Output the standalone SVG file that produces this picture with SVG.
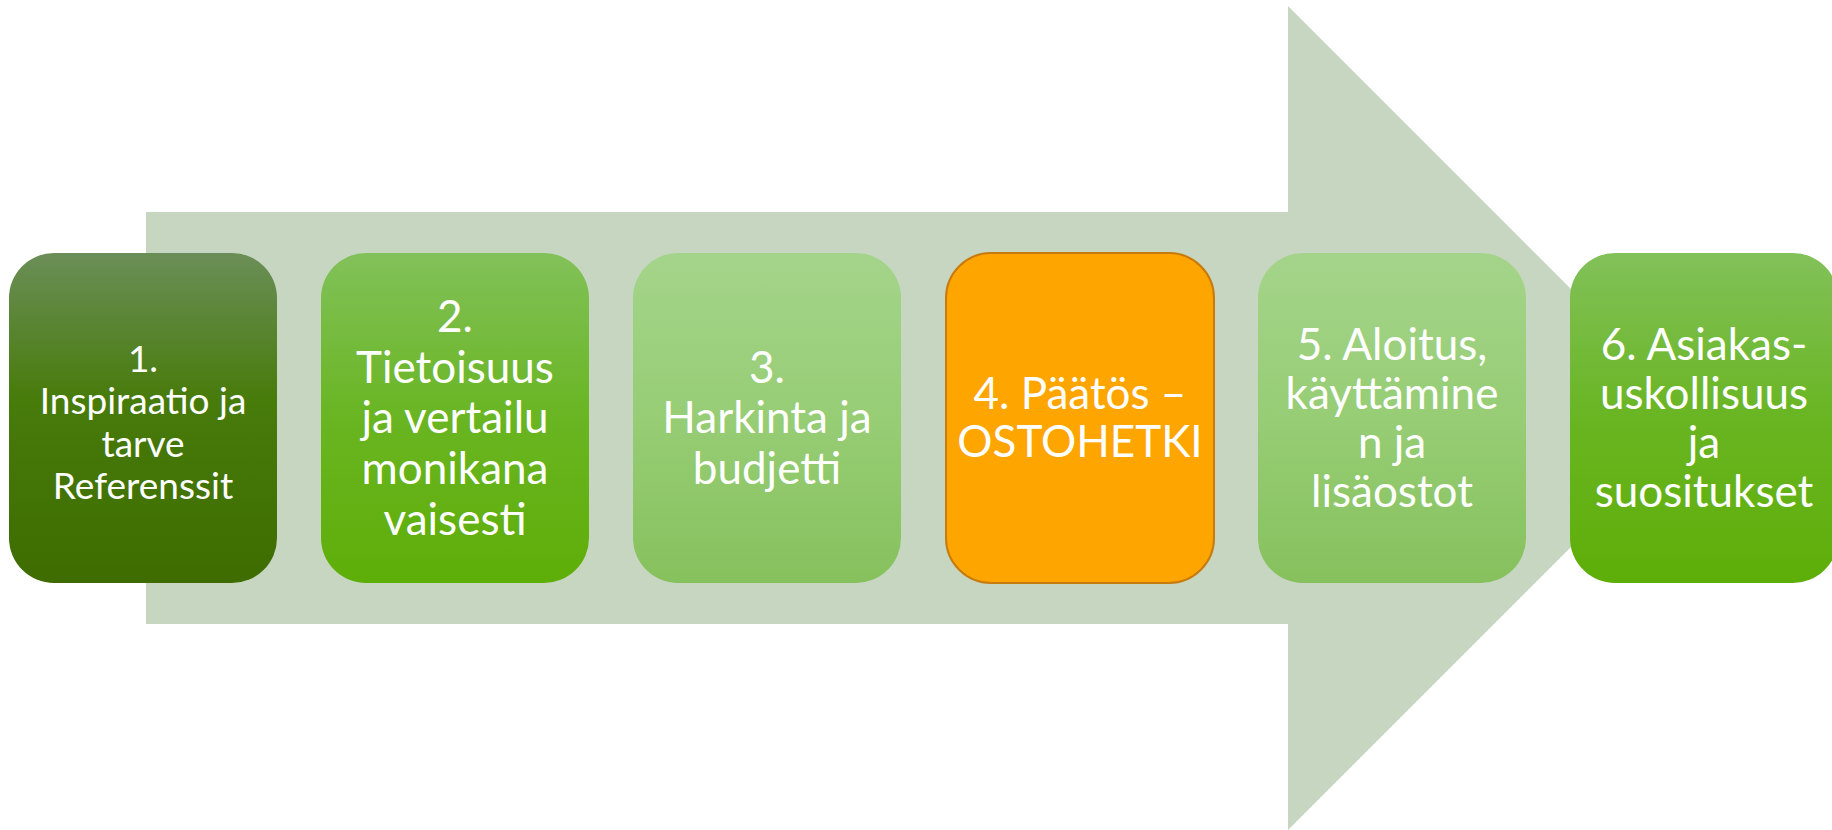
<svg xmlns="http://www.w3.org/2000/svg" width="1832" height="830" viewBox="0 0 1832 830">
<defs>
<linearGradient id="g1" x1="0" y1="0" x2="0" y2="1">
<stop offset="0" stop-color="#6B8E58"/><stop offset="0.45" stop-color="#477B0A"/><stop offset="1" stop-color="#3E6C00"/>
</linearGradient>
<linearGradient id="g2" x1="0" y1="0" x2="0" y2="1">
<stop offset="0" stop-color="#82C15A"/><stop offset="0.5" stop-color="#69B522"/><stop offset="1" stop-color="#5EAE08"/>
</linearGradient>
<linearGradient id="g3" x1="0" y1="0" x2="0" y2="1">
<stop offset="0" stop-color="#A4D48A"/><stop offset="0.5" stop-color="#97CD75"/><stop offset="1" stop-color="#86C15D"/>
</linearGradient>
<style>
.t{font-family:Lato,"Liberation Sans",sans-serif;fill:#FFFFFF;text-anchor:middle}
.s1{font-size:37px}
.s2{font-size:44px}
</style>
</defs>
<g id="arrow">
<polygon points="146,212 1288,212 1288,6 1700,418 1288,830 1288,624 146,624" fill="#C7D6C1"/>
</g>
<g id="node1">
<rect x="9" y="253" width="268" height="330" rx="45" ry="45" fill="url(#g1)"/>
<text class="t s1" x="143" y="372">1.</text>
<text class="t s1" x="143" y="414">Inspiraatio ja</text>
<text class="t s1" x="143" y="457">tarve</text>
<text class="t s1" x="143" y="499">Referenssit</text>
</g>
<g id="node2">
<rect x="321" y="253" width="268" height="330" rx="45" ry="45" fill="url(#g2)"/>
<text class="t s2" x="455" y="332">2.</text>
<text class="t s2" x="455" y="383">Tietoisuus</text>
<text class="t s2" x="455" y="433">ja vertailu</text>
<text class="t s2" x="455" y="484">monikana</text>
<text class="t s2" x="455" y="535">vaisesti</text>
</g>
<g id="node3">
<rect x="633" y="253" width="268" height="330" rx="45" ry="45" fill="url(#g3)"/>
<text class="t s2" x="767" y="383">3.</text>
<text class="t s2" x="767" y="433">Harkinta ja</text>
<text class="t s2" x="767" y="484">budjetti</text>
</g>
<g id="node4">
<rect x="946" y="253" width="268" height="330" rx="45" ry="45" fill="#FFA500" stroke="#C77B0C" stroke-width="2"/>
<text class="t s2" x="1080" y="409">4. Päätös –</text>
<text class="t s2" x="1080" y="457">OSTOHETKI</text>
</g>
<g id="node5">
<rect x="1258" y="253" width="268" height="330" rx="45" ry="45" fill="url(#g3)"/>
<text class="t s2" x="1392" y="360">5. Aloitus,</text>
<text class="t s2" x="1392" y="409">käyttämine</text>
<text class="t s2" x="1392" y="458">n ja</text>
<text class="t s2" x="1392" y="507">lisäostot</text>
</g>
<g id="node6">
<rect x="1570" y="253" width="268" height="330" rx="45" ry="45" fill="url(#g2)"/>
<text class="t s2" x="1704" y="360">6. Asiakas-</text>
<text class="t s2" x="1704" y="409">uskollisuus</text>
<text class="t s2" x="1704" y="458">ja</text>
<text class="t s2" x="1704" y="507">suositukset</text>
</g>
<g id="connectors"></g>
</svg>
